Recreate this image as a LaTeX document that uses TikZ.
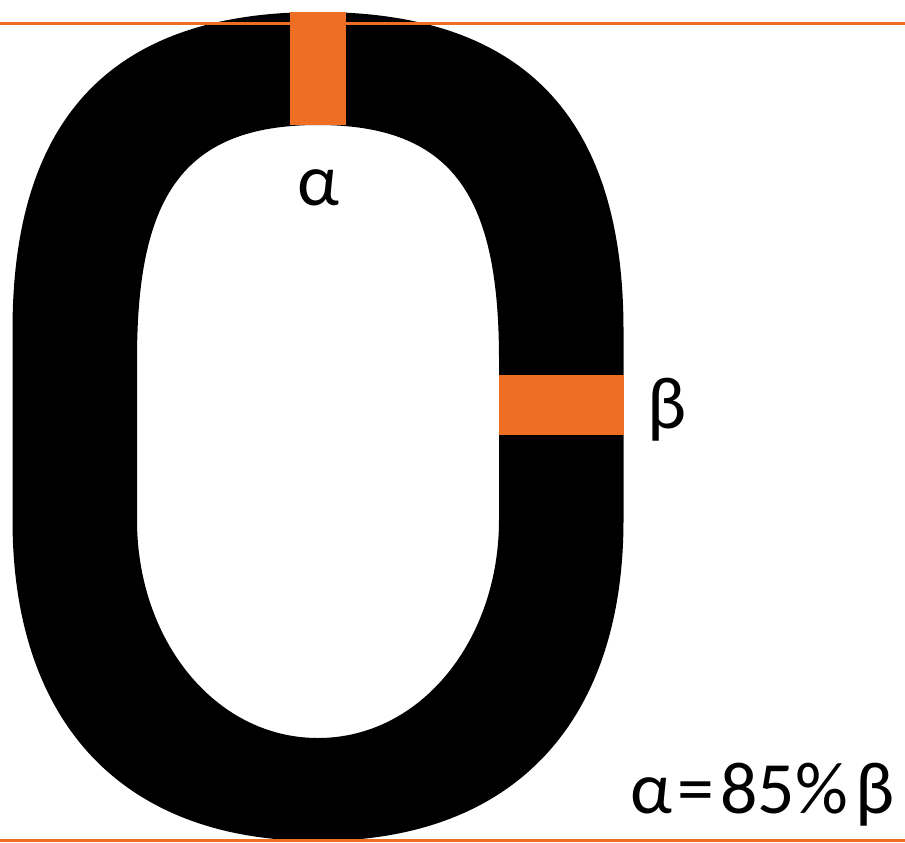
\documentclass[tikz,border=0pt]{standalone}
\usepackage{fontspec}
\setmainfont{Carlito}
\definecolor{markorange}{RGB}{238,110,36}

\begin{document}
\begin{tikzpicture}[x=0.02cm,y=-0.02cm,
  guide/.style={draw=markorange,line width=0.06cm},
  lbl/.style={font=\fontsize{42}{50}\selectfont,inner sep=0pt}]
  \useasboundingbox (0,0) rectangle (905,842);
  % letter O, outer and inner contour
  \fill[black,even odd rule]
    (12.5,330) .. controls (12.5,120) and (110,12) .. (318,12)
    .. controls (526,12) and (623.5,120) .. (623.5,330)
    -- (623.5,520) .. controls (623.5,720) and (516,841) .. (318,841)
    .. controls (120,841) and (12.5,720) .. (12.5,520) -- cycle
    (137,360) .. controls (137,200) and (180,125) .. (318,125)
    .. controls (456,125) and (499,200) .. (499,360)
    -- (499,520) .. controls (499,640) and (421,738) .. (318,738)
    .. controls (215,738) and (137,640) .. (137,520) -- cycle;
  % guide lines
  \draw[guide] (0,23.5) -- (905,23.5);
  \draw[guide] (0,840.5) -- (905,840.5);
  % stroke widths
  \fill[markorange] (290,12) rectangle (346,124.5);
  \fill[markorange] (499,375) rectangle (623.5,435);
  \node[lbl,anchor=base] (alpha) at (318,205) {α};
  \node[lbl,anchor=base west] (beta) at (647,428) {β};
  \node[lbl,anchor=base east] (ratio) at (895,813)
    {α\hspace{0.08em}=\hspace{0.08em}85\%\hspace{0.1em}β};
\end{tikzpicture}
\end{document}
